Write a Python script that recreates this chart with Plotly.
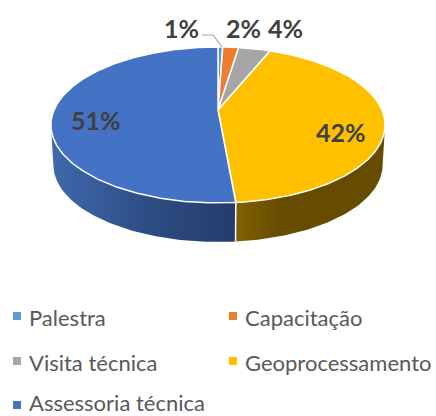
import numpy as np
import plotly.graph_objects as go

categories = ["Palestra", "Capacitação", "Visita técnica", "Geoprocessamento", "Assessoria técnica"]
shares = [0.55, 1.85, 3.7, 42.5, 51.4]
share_labels = ["1%", "2%", "4%", "42%", "51%"]
top_colors = ["#5B9BD5", "#ED7D31", "#A5A5A5", "#FFC000", "#4472C4"]

W, H = 436, 416
CX, CY = 218, 110     # apex of the pie on the page
A, B, K = 164, 75.1, 0.192  # perspective projection of the disc
DEPTH, BOTTOM_SCALE = 40.4, 0.985


def project(theta_deg, bottom=False):
    t = np.radians(theta_deg)
    u, v = np.sin(t), np.cos(t)
    w = 1 + K * v
    s = BOTTOM_SCALE if bottom else 1.0
    return CX + s * A * u / w, CY - s * B * v / w + (DEPTH if bottom else 0)


edges = np.concatenate([[0], np.cumsum(shares)]) / np.sum(shares) * 360
fig = go.Figure()


def wall(a0, a1, stops, x0, x1):
    th = np.linspace(a0, a1, 80)
    xt, yt = project(th)
    xb, yb = project(th[::-1], bottom=True)
    fig.add_trace(go.Scatter(
        x=np.concatenate([xt, xb, xt[:1]]), y=np.concatenate([yt, yb, yt[:1]]),
        mode="lines", line=dict(width=0), fill="toself", hoverinfo="skip", showlegend=False,
        fillgradient=dict(type="horizontal", colorscale=stops, start=x0, stop=x1)))


SIL_R = np.degrees(np.arccos(-K))
SIL_L = 360 - SIL_R
wall(edges[4], SIL_L, [[0, "#243C6C"], [0.5, "#2E4E86"], [1, "#3F69AE"]], 236, 51)
wall(SIL_R, edges[4], [[0, "#664C00"], [0.7, "#664C00"], [1, "#806000"]], 385, 236)

# white front seam of the wall
sx0, sy0 = project(edges[4])
sx1, sy1 = project(edges[4], bottom=True)
fig.add_trace(go.Scatter(x=[sx0, sx1], y=[sy0, sy1], mode="lines",
                         line=dict(color="white", width=1.5), hoverinfo="skip", showlegend=False))

# top face of every slice
for i, name in enumerate(categories):
    th = np.linspace(edges[i], edges[i + 1], max(4, int(shares[i] * 6)))
    x, y = project(th)
    fig.add_trace(go.Scatter(
        x=np.concatenate([[CX], x, [CX]]), y=np.concatenate([[CY], y, [CY]]),
        mode="lines", fill="toself", fillcolor=top_colors[i],
        line=dict(color="white", width=1.5), name=name, hoverinfo="name", showlegend=False))

# legend rows: square swatches with their names beside them
legend_x = [17, 233, 17, 233, 17]
legend_y = [316, 316, 361, 361, 405]
text_y = [317.5, 317.5, 362.5, 362.5, 402.5]
fig.add_trace(go.Scatter(
    x=legend_x, y=legend_y, mode="markers",
    marker=dict(symbol="square", size=8, color=top_colors),
    hoverinfo="skip", showlegend=False, cliponaxis=False))
for name, x, y in zip(categories, legend_x, text_y):
    fig.add_annotation(x=x + 10, y=y, text=name, showarrow=False, xanchor="left",
                       font=dict(family="Lato", size=22, color="#595959"))

# data labels
label_x = [181, 243, 285, 341, 96]
label_y = [28, 28, 28, 132, 120]
for t, x, y in zip(share_labels, label_x, label_y):
    fig.add_annotation(x=x, y=y, text=t, showarrow=False,
                       font=dict(family="Lato", size=25, color="#404040", weight="bold"))

# leader line of the smallest slice
fig.add_shape(type="path", path="M 202 35 L 213 35 L 222 47",
              line=dict(color="#A6A6A6", width=1.2))

fig.update_layout(
    width=W, height=H, margin=dict(l=0, r=0, t=0, b=0),
    paper_bgcolor="white", plot_bgcolor="white", showlegend=False,
    xaxis=dict(range=[0, W], visible=False, fixedrange=True),
    yaxis=dict(range=[H, 0], visible=False, fixedrange=True),
)
fig.write_html("out.html", config={"displayModeBar": False},
               post_script="document.body.style.margin='0';document.body.style.overflow='hidden';")
